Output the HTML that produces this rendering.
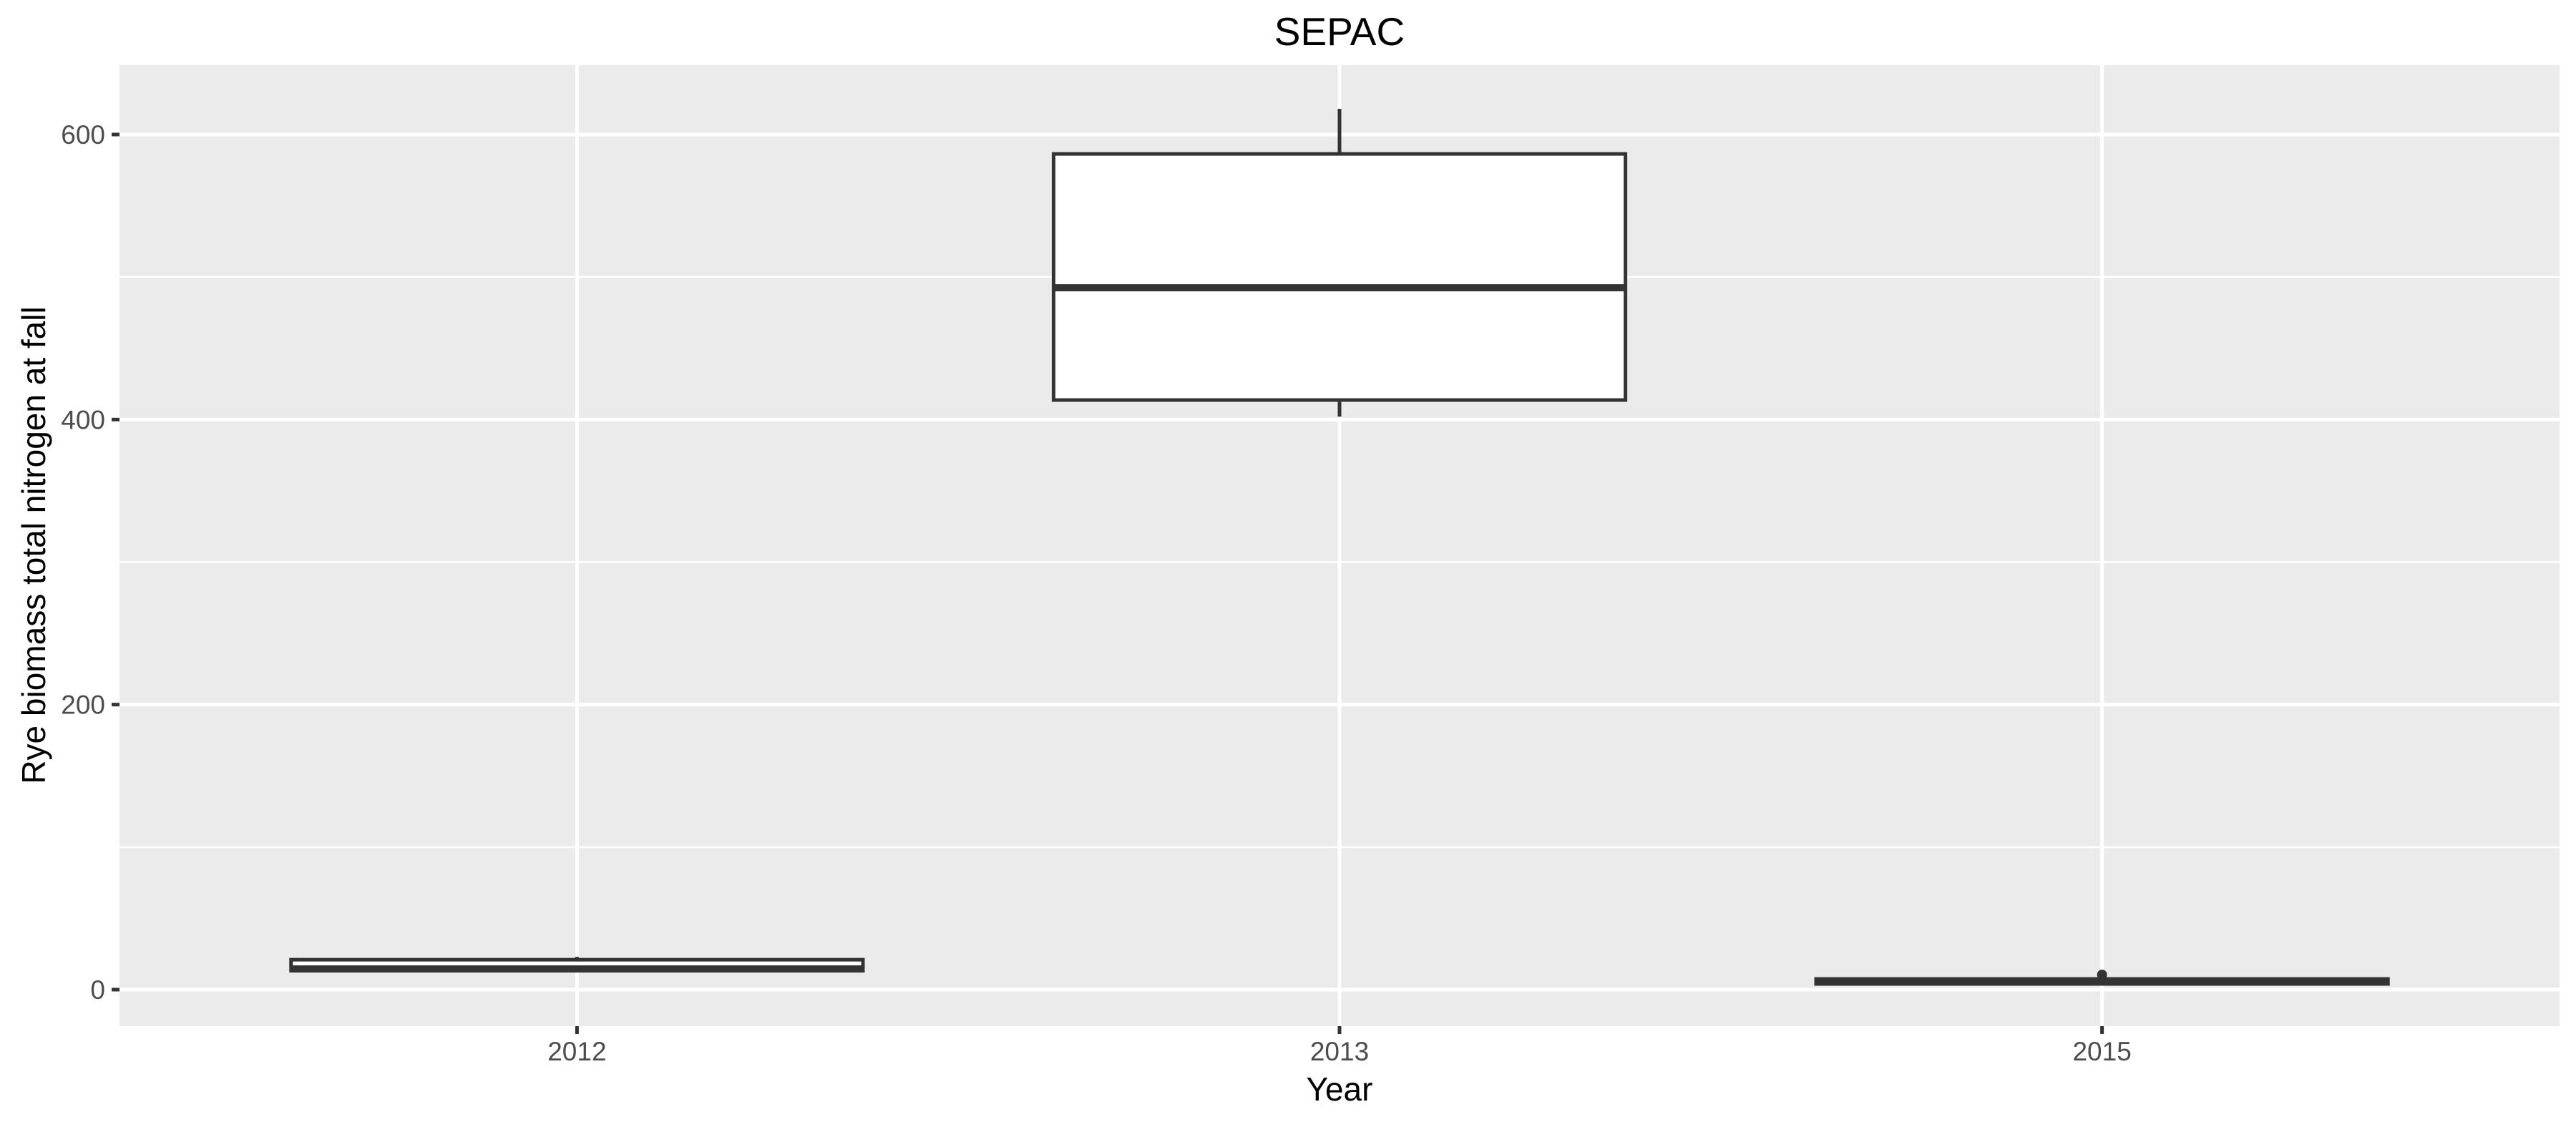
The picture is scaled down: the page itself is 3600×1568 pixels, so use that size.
<!DOCTYPE html>
<html><head><meta charset="utf-8"><style>
html,body{margin:0;padding:0;background:#fff;}
svg{display:block;font-family:"Liberation Sans",Arial,sans-serif;}
</style></head><body>
<svg id="chart" width="3600" height="1568" viewBox="0 0 3600 1568">
<rect x="0" y="0" width="3600" height="1568" fill="#fff"/>
<text x="1872" y="63" font-size="55" text-anchor="middle" fill="#000">SEPAC</text>
<rect x="167" y="91" width="3410" height="1343" fill="#ebebeb"/>
<g id="grid"></g>
<g id="boxes"></g>
<g id="axes"></g>
<text x="1872" y="1538" font-size="46" text-anchor="middle" fill="#000">Year</text>
<text transform="translate(63,762) rotate(-90)" font-size="46" text-anchor="middle" fill="#000">Rye biomass total nitrogen at fall</text>
</svg>
<script>
const categories = ["2012", "2013", "2015"];
const whiskerLow = [13, 402, 5];
const q1Values = [13.3, 413.7, 4];
const medianValues = [14.5, 492.5, 5.5];
const q3Values = [21, 586.4, 7.5];
const whiskerHigh = [23, 618, 7.5];
const outlierCategory = ["2015"];
const outlierValues = [10.5];
const yTicks = [0, 200, 400, 600];
const yMinorTicks = [100, 300, 500];

const NS = "http://www.w3.org/2000/svg";
const panel = {left:167, right:3577, top:91, bottom:1434};
const yMin = -25.6, yMax = 648.7;
function yScale(v){ return panel.bottom - (v - yMin) / (yMax - yMin) * (panel.bottom - panel.top); }
const step = (panel.right - panel.left) / (categories.length + 0.2);
function xScale(c){ return panel.left + step * (0.6 + categories.indexOf(c)); }
const boxW = step * 0.75;

function mk(tag, attrs, parent){
  const el = document.createElementNS(NS, tag);
  for (const k in attrs) el.setAttribute(k, attrs[k]);
  parent.appendChild(el);
  return el;
}
const grid = document.getElementById('grid');
const boxes = document.getElementById('boxes');
const axes = document.getElementById('axes');

yMinorTicks.forEach(v => {
  const l = mk('line', {x1:panel.left, x2:panel.right, y1:yScale(v), y2:yScale(v), stroke:'#fff', 'stroke-width':2.5}, grid);
  
  
});
yTicks.forEach(v => {
  const y = yScale(v);
  const l = mk('line', {x1:panel.left, x2:panel.right, y1:y, y2:y, stroke:'#fff', 'stroke-width':5}, grid);
  
  
  const t = mk('line', {x1:156, x2:167, y1:y, y2:y, stroke:'#333', 'stroke-width':5}, axes);
  
  
  const tx = mk('text', {x:147, y:y+13, 'font-size':37, 'text-anchor':'end', fill:'#4d4d4d'}, axes);
  tx.textContent = v;
  
  
});
categories.forEach(c => {
  const x = xScale(c);
  const l = mk('line', {x1:x, x2:x, y1:panel.top, y2:panel.bottom, stroke:'#fff', 'stroke-width':5}, grid);
  
  
  const t = mk('line', {x1:x, x2:x, y1:panel.bottom, y2:panel.bottom+11, stroke:'#333', 'stroke-width':5}, axes);
  
  
  const tx = mk('text', {x:x, y:1482, 'font-size':37, 'text-anchor':'middle', fill:'#4d4d4d'}, axes);
  tx.textContent = c;
  
  
});
categories.forEach((c, i) => {
  const x = xScale(c);
  const g = mk('g', {}, boxes);
  
  
  mk('line', {x1:x, x2:x, y1:yScale(whiskerHigh[i]), y2:yScale(q3Values[i]), stroke:'#333', 'stroke-width':5}, g);
  mk('line', {x1:x, x2:x, y1:yScale(q1Values[i]), y2:yScale(whiskerLow[i]), stroke:'#333', 'stroke-width':5}, g);
  const top = yScale(q3Values[i]), bot = yScale(q1Values[i]);
  mk('rect', {x:x-boxW/2, y:top, width:boxW, height:Math.max(bot-top,0.5), fill:'#fff', stroke:'#333', 'stroke-width':5}, g);
  const m = yScale(medianValues[i]);
  mk('line', {x1:x-boxW/2, x2:x+boxW/2, y1:m, y2:m, stroke:'#333', 'stroke-width':10}, g);
});
outlierCategory.forEach((c, i) => {
  const p = mk('circle', {cx:xScale(c), cy:yScale(outlierValues[i]), r:7, fill:'#333'}, boxes);
  
  
});
</script>
</body></html>
